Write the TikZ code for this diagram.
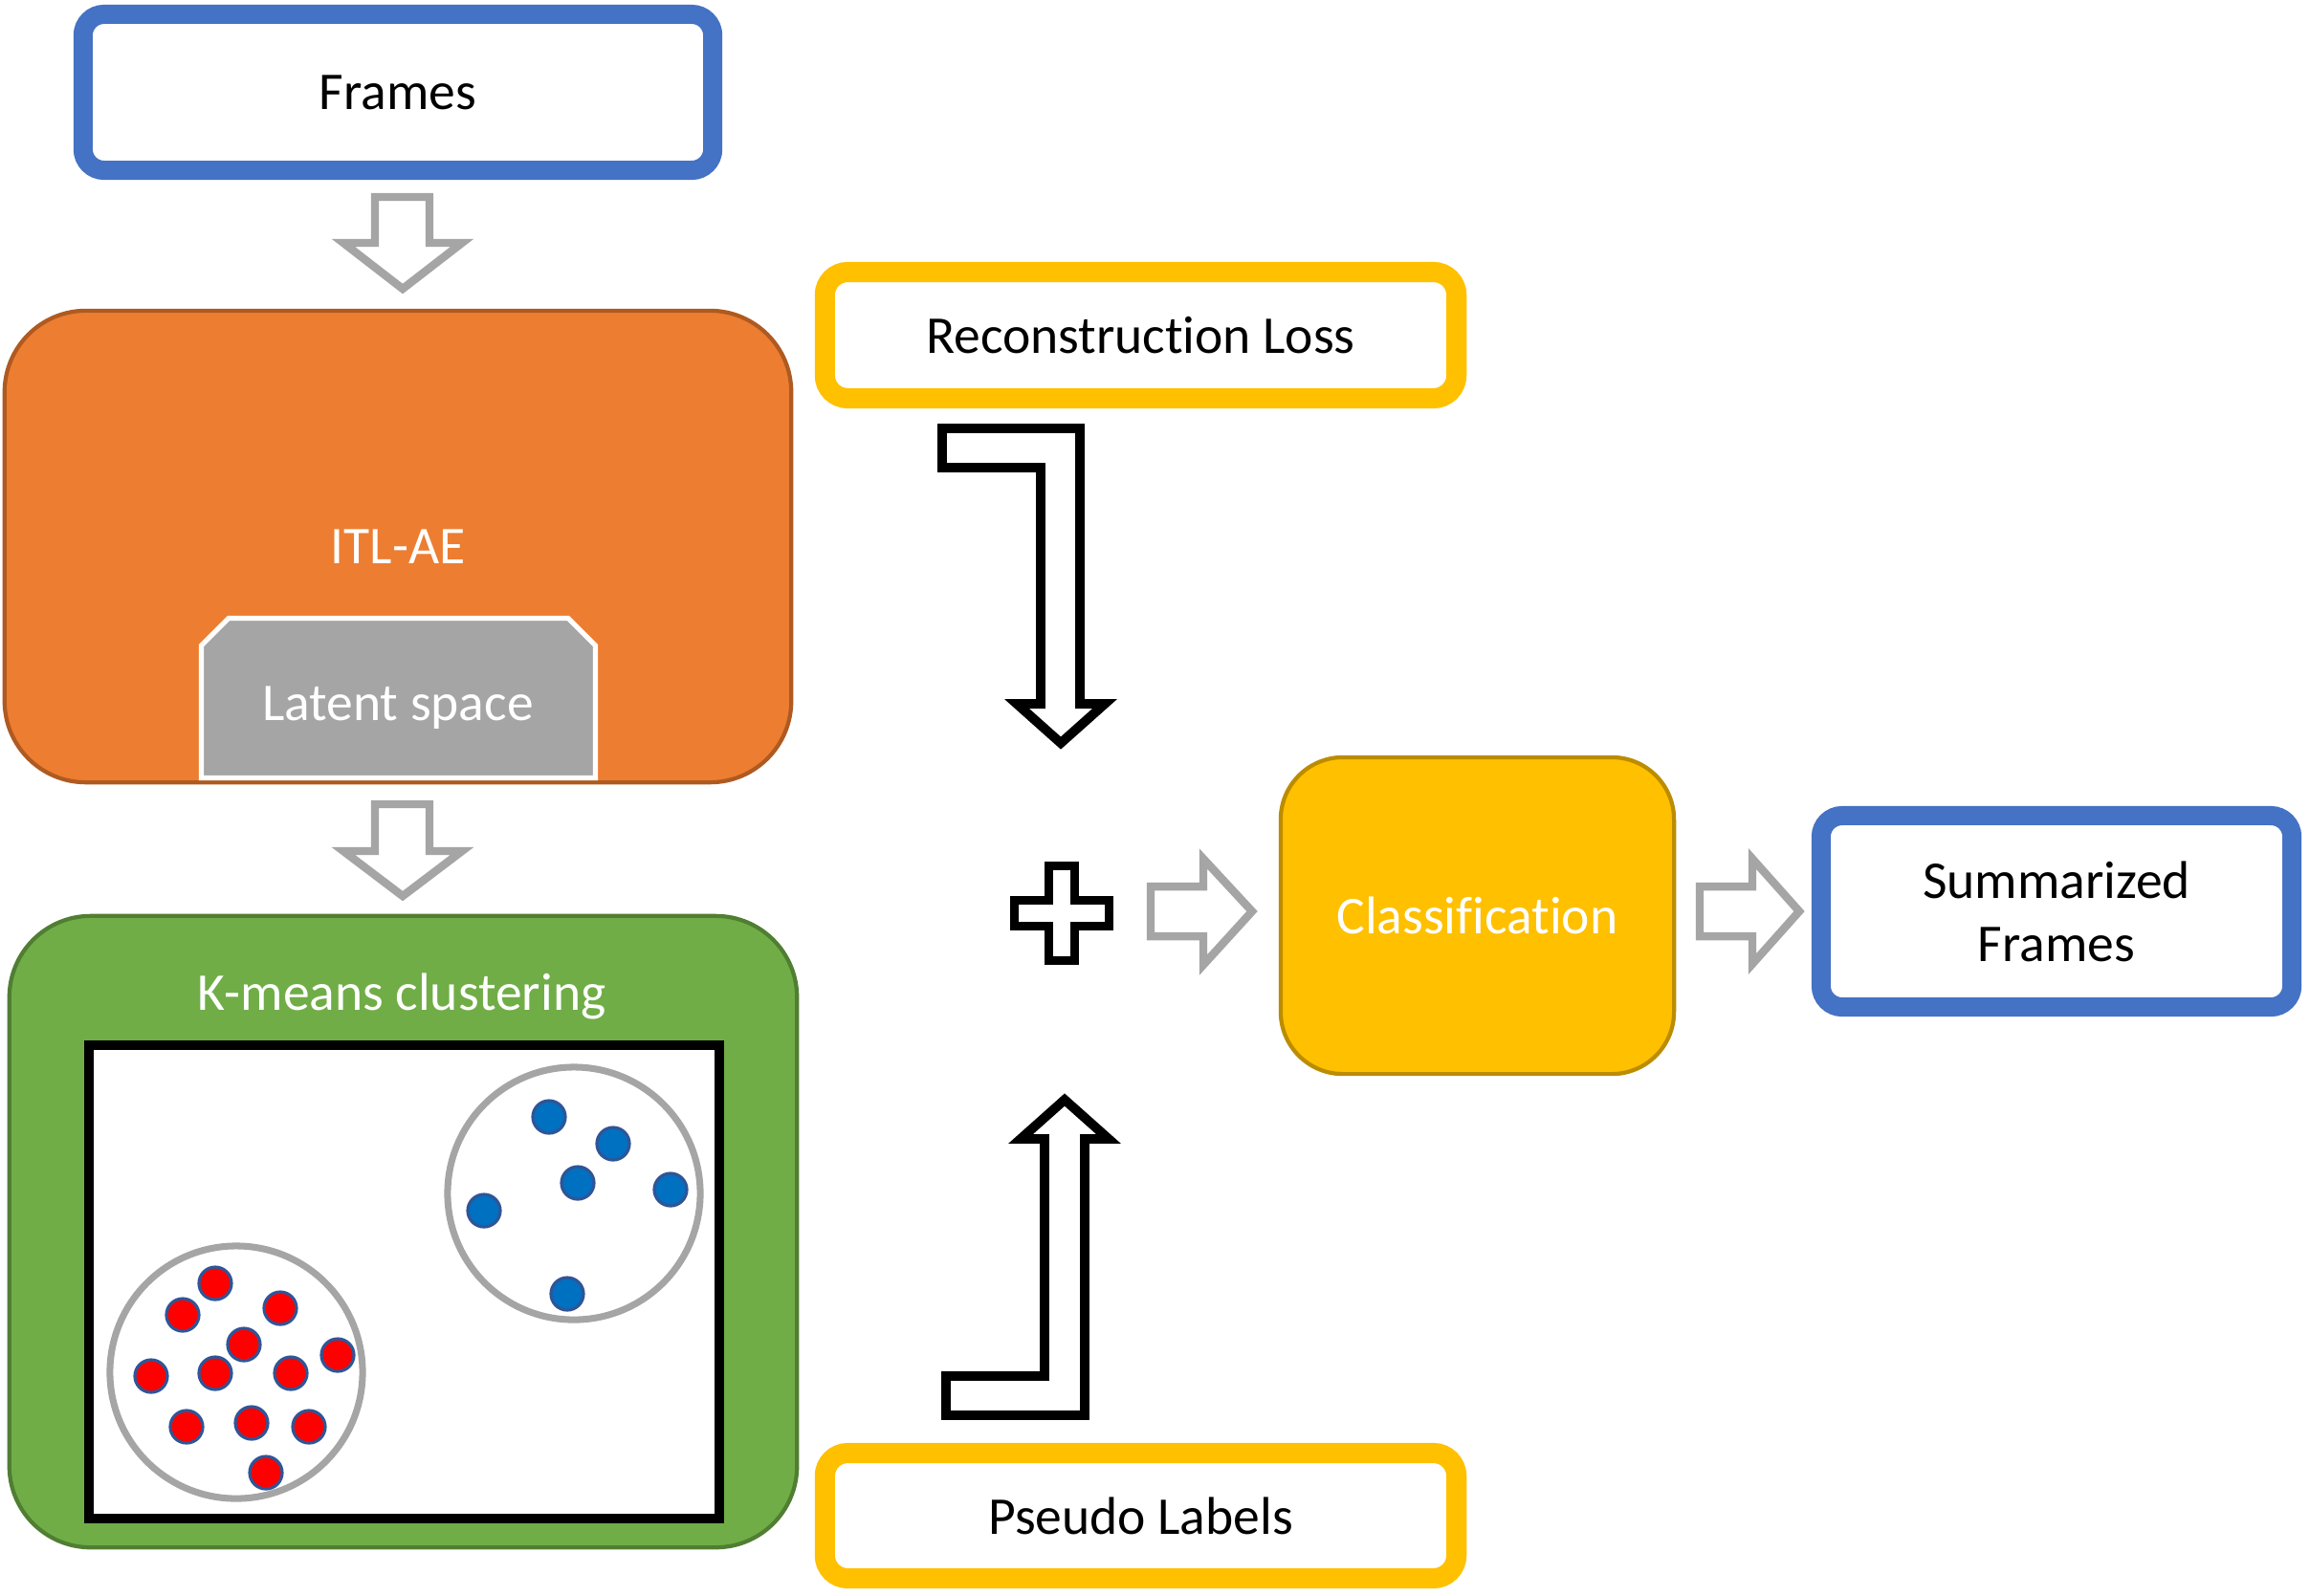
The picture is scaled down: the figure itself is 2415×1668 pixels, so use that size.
\documentclass[tikz,border=0pt]{standalone}
\usepackage{fontspec}
\setmainfont{Carlito}[Ligatures=NoCommon]
\definecolor{cblue}{HTML}{4472C4}
\definecolor{corange}{HTML}{ED7D31}
\definecolor{corangeb}{HTML}{AE5A21}
\definecolor{cgreen}{HTML}{70AD47}
\definecolor{cgreenb}{HTML}{507E32}
\definecolor{cyellow}{HTML}{FFC000}
\definecolor{cyellowb}{HTML}{BC8C00}
\definecolor{cgray}{HTML}{A5A5A5}
\definecolor{dotblue}{HTML}{0070C0}
\definecolor{dotred}{HTML}{FF0000}
\definecolor{dotb}{HTML}{2F5597}
\newcommand{\txtfont}{\fontsize{15.8}{18.8}\selectfont}
\tikzset{
  box/.style={inner sep=0pt, outer sep=0pt, font=\txtfont, align=center},
  bluebox/.style={box, draw=cblue, line width=5.7pt, rounded corners=0.22cm, fill=white},
  yelbox/.style={box, draw=cyellow, line width=6pt, rounded corners=0.24cm, fill=white},
  bigbox/.style={box, line width=1.2pt, rounded corners=0.85cm, text=white},
  grayarrow/.style={draw=cgray, line width=2.4pt, fill=white, line join=miter},
  blackarrow/.style={draw=black, line width=2.8pt, fill=white, line join=miter},
  cluster/.style={draw=cgray, line width=2pt, fill=white},
  bdot/.style={draw=dotb, line width=0.9pt, fill=dotblue},
  rdot/.style={draw=dotb, line width=0.9pt, fill=dotred},
  lbl/.style={font=\txtfont, inner sep=0pt, text=white}
}
\begin{document}
\begin{tikzpicture}[x=0.01cm, y=-0.01cm]
\useasboundingbox (0,0) rectangle (2415,1668);

% Frames
\node[bluebox, minimum width=6.58cm, minimum height=1.63cm] (frames) at (416,96.5) {Frames};

% arrow 1
\draw[grayarrow] (392,206) -- (449,206) -- (449,254) -- (483,254) -- (421,302) -- (359,254) -- (392,254) -- cycle;

% ITL-AE
\node[bigbox, draw=corangeb, fill=corange, minimum width=8.22cm, minimum height=4.93cm] (itl) at (416,571.5) {ITL-AE};

% Latent space
\draw[draw=white, fill=cgray, line width=1.45pt, line join=miter]
  (210.5,813.5) -- (210.5,675) -- (239,646.5) -- (594,646.5) -- (622.5,675) -- (622.5,813.5) -- cycle;
\node[lbl] (latent) at (416,740) {Latent space};

% arrow 2
\draw[grayarrow] (392,841) -- (449,841) -- (449,890) -- (483,890) -- (421,937) -- (359,890) -- (392,890) -- cycle;

% K-means
\node[bigbox, draw=cgreenb, fill=cgreen, minimum width=8.23cm, minimum height=6.6cm] (kmeans) at (421.5,1288) {};
\node[lbl] (kmtitle) at (420,1042) {K-means clustering};
\node[draw=black, fill=white, line width=2.85pt, minimum width=6.59cm, minimum height=4.95cm, inner sep=0pt] (plot) at (422.5,1340.5) {};

% clusters
\draw[cluster] (600,1248) circle[radius=1.32cm];
\draw[cluster] (247,1435) circle[radius=1.32cm];
\foreach \p in {(574,1168),(641,1196),(604,1237),(701,1244),(506,1266),(593,1353)}
  \draw[bdot] \p circle[radius=0.17cm];
\foreach \p in {(225,1342),(191,1375),(293,1368),(255,1406),(353,1417),(158,1439),(225,1436),(304,1436),(195,1492),(263,1488),(323,1492),(278,1540)}
  \draw[rdot] \p circle[radius=0.17cm];

% Reconstruction Loss
\node[yelbox, minimum width=6.6cm, minimum height=1.32cm] (recon) at (1192.5,350.5) {Reconstruction Loss};

% bent arrow down
\draw[blackarrow] (985,448) -- (1129,448) -- (1129,736) -- (1155,736) -- (1109,777) -- (1063,736) -- (1088,736) -- (1088,489) -- (985,489) -- cycle;

% plus
\draw[blackarrow] (1096.5,905.5) -- (1123.5,905.5) -- (1123.5,941.5) -- (1159.5,941.5) -- (1159.5,968.5) -- (1123.5,968.5) -- (1123.5,1004.5) -- (1096.5,1004.5) -- (1096.5,968.5) -- (1060.5,968.5) -- (1060.5,941.5) -- (1096.5,941.5) -- cycle;

% right arrow 1
\draw[grayarrow] (1203,927) -- (1258,927) -- (1258,898) -- (1309,953) -- (1258,1009) -- (1258,979) -- (1203,979) -- cycle;

% Classification
\node[box, draw=cyellowb, fill=cyellow, line width=1.2pt, rounded corners=0.65cm, text=white, minimum width=4.11cm, minimum height=3.31cm] (class) at (1544.5,957.5) {Classification};

% right arrow 2
\draw[grayarrow] (1777,927) -- (1832,927) -- (1832,898) -- (1881,953) -- (1832,1008) -- (1832,979) -- (1777,979) -- cycle;

% Summarized Frames
\node[bluebox, minimum width=4.92cm, minimum height=2.0cm] (summ) at (2150,953) {Summarized\\Frames};

% bent arrow up
\draw[blackarrow] (989,1480) -- (1134,1480) -- (1134,1191) -- (1159,1191) -- (1113,1150) -- (1067,1191) -- (1092,1191) -- (1092,1439) -- (989,1439) -- cycle;

% Pseudo Labels
\node[yelbox, minimum width=6.6cm, minimum height=1.31cm] (pseudo) at (1192.5,1585) {Pseudo Labels};
\end{tikzpicture}
\end{document}
